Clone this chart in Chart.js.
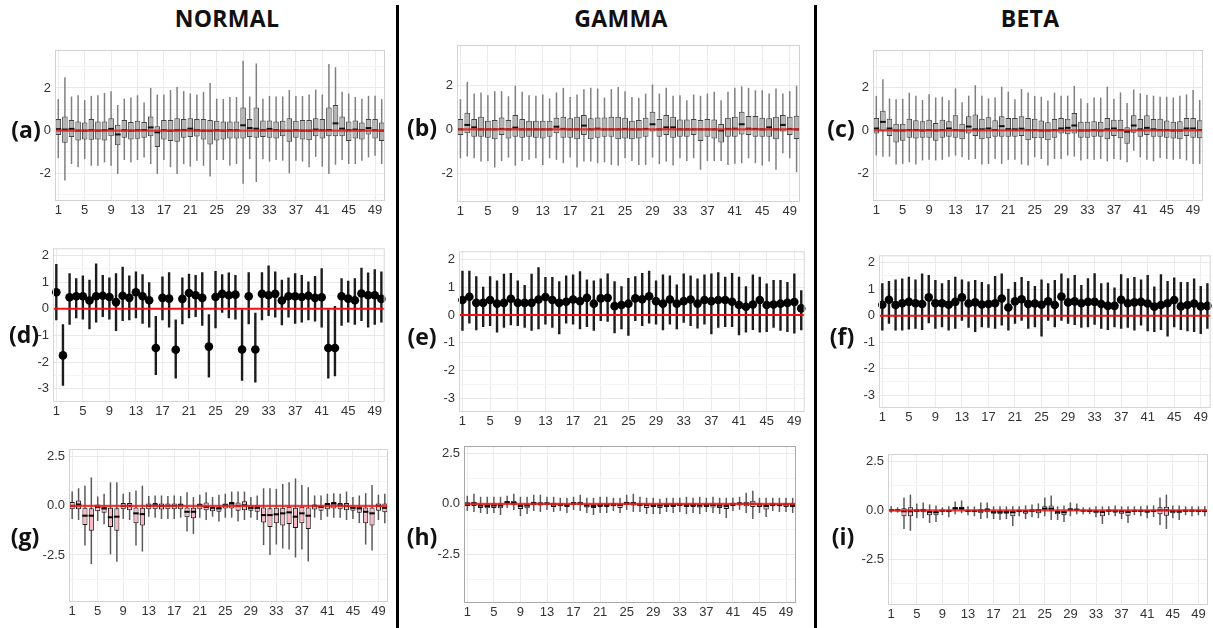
<!DOCTYPE html>
<html><head><meta charset="utf-8">
<script src="https://cdn.jsdelivr.net/npm/chart.js@4"></script>
<style>
html,body{margin:0;padding:0;background:#fff;}
body{width:1213px;height:628px;position:relative;overflow:hidden;}
canvas{position:absolute;}
.t{position:absolute;transform:translate(-50%,-50%);font-family:'Open Sans',sans-serif;font-weight:700;color:#111;line-height:1;white-space:nowrap;z-index:5;}
.hdr{font-size:23px;letter-spacing:0.3px;}
.lab{font-size:23px;}
.sep{position:absolute;top:5px;width:3px;height:623px;background:#000;}
</style></head>
<body>
<div class="sep" style="left:396px"></div>
<div class="sep" style="left:814px"></div>
<div class="t hdr" style="left:227px;top:18px">NORMAL</div>
<div class="t hdr" style="left:621px;top:18px">GAMMA</div>
<div class="t hdr" style="left:1030px;top:18px">BETA</div>
<div class="t lab" style="left:26px;top:129px">(a)</div>
<div class="t lab" style="left:422px;top:127px">(b)</div>
<div class="t lab" style="left:841px;top:128px">(c)</div>
<div class="t lab" style="left:24px;top:334px">(d)</div>
<div class="t lab" style="left:422px;top:336px">(e)</div>
<div class="t lab" style="left:842px;top:336px">(f)</div>
<div class="t lab" style="left:25px;top:536px">(g)</div>
<div class="t lab" style="left:422px;top:536px">(h)</div>
<div class="t lab" style="left:843px;top:536px">(i)</div>
<script>
const CATEGORIES = ['1','2','3','4','5','6','7','8','9','10','11','12','13','14','15','16','17','18','19','20','21','22','23','24','25','26','27','28','29','30','31','32','33','34','35','36','37','38','39','40','41','42','43','44','45','46','47','48','49','50'];
const X_TICK_LABELS = ['1','5','9','13','17','21','25','29','33','37','41','45','49'];

// y tick labels (major) and minor grid positions
const Y_TICKS_TOP = [-2, 0, 2];
const Y_MINOR_TOP = [-3, -1, 1, 3];
const Y_TICKS_MID = [-3, -2, -1, 0, 1, 2];
const Y_MINOR_MID = [-2.5, -1.5, -0.5, 0.5, 1.5];
const Y_TICKS_BOT = [-2.5, 0, 2.5];
const Y_MINOR_BOT = [-3.75, -1.25, 1.25];

// (a) NORMAL boxplots
const aHi = [1.48,2.5,1.6,1.66,1.43,1.63,1.66,1.77,1.85,1.2,1.5,1.55,1.66,1.32,2.0,1.69,1.69,1.9,2.05,1.85,1.74,1.69,1.82,2.23,1.5,1.48,1.58,1.58,3.28,1.6,3.15,1.5,1.62,1.6,1.6,1.9,1.62,1.62,1.69,1.92,1.69,3.12,2.97,1.82,1.74,1.58,1.5,1.63,1.63,1.48];
const aLo = [-1.29,-2.34,-1.57,-1.72,-1.34,-1.65,-1.65,-1.49,-1.65,-2.03,-1.38,-1.49,-1.38,-1.26,-1.57,-2.03,-1.38,-1.72,-2.03,-1.57,-1.69,-1.41,-1.65,-2.15,-1.38,-1.38,-1.65,-1.57,-2.49,-1.34,-2.41,-1.34,-1.45,-1.38,-1.41,-2.0,-1.41,-1.45,-1.72,-1.23,-1.69,-2.03,-1.6,-1.38,-1.57,-1.57,-1.41,-1.26,-1.18,-1.57];
const aQ3 = [0.55,0.66,0.5,0.43,0.38,0.55,0.43,0.43,0.58,0.28,0.5,0.4,0.46,0.4,0.66,0.2,0.5,0.5,0.58,0.55,0.58,0.54,0.54,0.5,0.46,0.43,0.43,0.43,1.08,0.55,1.08,0.48,0.48,0.43,0.46,0.58,0.46,0.5,0.5,0.58,0.55,1.08,1.2,0.66,0.43,0.48,0.38,0.55,0.55,0.38];
const aQ1 = [-0.2,-0.57,-0.3,-0.46,-0.42,-0.43,-0.42,-0.46,-0.26,-0.69,-0.34,-0.42,-0.38,-0.34,-0.26,-0.77,-0.42,-0.49,-0.52,-0.34,-0.3,-0.28,-0.42,-0.65,-0.46,-0.42,-0.37,-0.37,-0.37,-0.3,-0.34,-0.3,-0.34,-0.37,-0.26,-0.52,-0.34,-0.42,-0.45,-0.26,-0.37,-0.26,-0.26,-0.26,-0.49,-0.37,-0.42,-0.18,-0.37,-0.49];
const aMed = [0.07,0.05,0.08,0.0,0.0,0.02,0.0,0.02,0.08,-0.18,0.02,0.0,0.02,0.03,0.15,-0.08,0.02,0.0,0.02,0.03,0.09,0.02,0.0,0.0,0.02,0.0,0.02,0.02,0.25,0.12,0.09,0.02,0.08,0.02,0.0,0.0,0.02,0.0,0.0,0.05,0.02,0.03,0.34,0.09,0.02,0.05,0.02,0.12,0.02,0.0];

// (b) GAMMA boxplots
const bHi = [1.37,2.15,1.62,1.67,1.55,1.73,1.73,1.5,1.97,1.7,1.55,1.52,1.58,1.4,1.67,1.88,1.47,1.58,1.82,1.88,1.85,1.44,1.82,1.92,1.73,1.47,1.43,1.62,2.03,1.62,1.88,1.52,1.55,1.32,1.58,1.52,1.62,1.7,1.32,1.7,1.88,1.95,1.88,1.77,1.77,1.62,1.85,1.62,1.73,1.97];
const bLo = [-1.31,-1.23,-1.31,-1.46,-1.43,-1.73,-1.43,-1.28,-1.64,-1.43,-1.38,-1.31,-1.61,-1.31,-1.38,-1.53,-1.28,-1.73,-1.46,-1.46,-1.53,-1.49,-1.61,-1.65,-1.31,-1.43,-1.61,-1.61,-1.28,-1.58,-1.46,-1.64,-1.31,-1.43,-1.31,-1.83,-1.43,-1.43,-1.43,-1.61,-1.56,-1.53,-1.31,-1.53,-1.64,-1.46,-1.83,-1.08,-1.31,-1.94];
const bQ3 = [0.47,0.75,0.47,0.57,0.39,0.42,0.54,0.42,0.65,0.47,0.39,0.39,0.39,0.39,0.53,0.57,0.5,0.57,0.65,0.5,0.54,0.54,0.57,0.57,0.53,0.39,0.42,0.53,0.8,0.47,0.65,0.57,0.45,0.45,0.47,0.42,0.47,0.45,0.24,0.53,0.57,0.8,0.6,0.6,0.53,0.5,0.57,0.65,0.57,0.62];
const bQ1 = [-0.26,-0.18,-0.33,-0.33,-0.38,-0.45,-0.26,-0.41,-0.33,-0.38,-0.33,-0.38,-0.41,-0.33,-0.18,-0.38,-0.38,-0.45,-0.26,-0.45,-0.38,-0.33,-0.33,-0.45,-0.41,-0.45,-0.41,-0.33,-0.1,-0.33,-0.26,-0.38,-0.33,-0.33,-0.26,-0.53,-0.33,-0.41,-0.59,-0.33,-0.33,-0.23,-0.26,-0.33,-0.33,-0.33,-0.45,-0.1,-0.26,-0.44];
const bMed = [0.0,0.2,0.09,0.0,0.0,0.0,0.02,0.0,0.08,0.0,0.0,0.0,0.0,0.0,0.12,0.02,0.0,0.0,0.17,0.0,0.03,0.0,0.0,0.0,0.02,0.0,0.0,0.02,0.23,0.0,0.09,0.09,0.0,0.0,0.0,0.0,0.0,0.0,-0.05,0.02,0.03,0.23,0.03,0.02,0.0,0.09,0.0,0.2,0.02,0.0];

// (c) BETA boxplots
const cHi = [1.62,2.4,1.5,1.46,1.48,1.77,1.63,1.43,1.69,1.54,1.58,1.41,1.97,1.32,1.63,2.12,1.63,1.5,1.55,2.05,1.82,1.46,1.94,1.78,1.62,1.58,1.4,1.77,1.63,1.63,2.09,1.5,1.28,1.54,1.54,2.05,1.48,1.78,1.28,1.92,1.74,1.66,1.63,1.58,1.58,1.54,1.62,1.69,1.9,1.43];
const cLo = [-1.18,-1.23,-1.23,-1.6,-1.57,-1.49,-1.6,-1.41,-1.38,-1.41,-1.38,-1.23,-1.18,-1.26,-1.38,-1.34,-1.6,-1.57,-1.34,-1.57,-1.38,-1.38,-1.6,-1.65,-1.26,-1.34,-1.65,-1.34,-1.34,-1.18,-1.23,-1.41,-1.34,-1.38,-1.34,-1.45,-1.34,-1.38,-1.49,-0.95,-1.26,-1.38,-1.45,-1.29,-1.34,-1.38,-1.34,-1.41,-1.57,-1.57];
const cQ3 = [0.58,0.92,0.55,0.31,0.31,0.55,0.48,0.43,0.5,0.35,0.5,0.43,0.71,0.31,0.66,0.74,0.55,0.62,0.48,0.66,0.58,0.58,0.66,0.58,0.55,0.46,0.38,0.54,0.58,0.55,0.82,0.4,0.4,0.43,0.4,0.58,0.5,0.5,0.15,0.71,0.54,0.71,0.54,0.55,0.46,0.4,0.43,0.58,0.58,0.48];
const cQ1 = [-0.15,-0.03,-0.26,-0.57,-0.49,-0.34,-0.38,-0.34,-0.34,-0.49,-0.34,-0.3,-0.34,-0.42,-0.15,-0.26,-0.42,-0.37,-0.3,-0.3,-0.3,-0.3,-0.26,-0.46,-0.37,-0.37,-0.46,-0.34,-0.15,-0.18,-0.15,-0.34,-0.34,-0.3,-0.3,-0.42,-0.26,-0.37,-0.62,-0.11,-0.3,-0.22,-0.3,-0.3,-0.34,-0.38,-0.42,-0.26,-0.34,-0.37];
const cMed = [0.09,0.4,0.09,0.0,0.0,0.02,0.02,0.0,0.02,0.0,0.02,0.09,0.02,0.0,0.18,0.05,0.05,0.09,0.02,0.2,0.06,0.05,0.08,0.02,0.02,0.0,0.0,0.02,0.09,0.12,0.23,0.0,0.0,0.02,0.0,0.05,0.09,0.02,-0.06,0.23,0.05,0.12,0.05,0.02,0.02,0.0,0.0,0.09,0.09,0.02];

// (d) NORMAL point + interval
const dPt = [0.62,-1.75,0.43,0.47,0.47,0.31,0.47,0.49,0.44,0.25,0.49,0.41,0.62,0.47,0.32,-1.47,0.41,0.38,-1.54,0.37,0.59,0.51,0.41,-1.42,0.44,0.56,0.51,0.53,-1.53,0.47,-1.53,0.56,0.51,0.56,0.31,0.47,0.47,0.44,0.49,0.41,0.43,-1.47,-1.47,0.47,0.38,0.32,0.57,0.51,0.51,0.37];
const dHi = [1.68,-0.58,1.33,1.15,1.25,1.09,1.7,1.27,1.17,1.33,1.58,1.25,1.4,1.3,1.0,-0.27,1.21,1.37,-0.4,1.17,1.31,1.27,1.37,-0.21,1.42,1.3,1.36,1.27,-0.02,1.37,-0.15,1.37,1.62,1.4,1.09,1.17,1.33,1.27,1.02,1.23,1.52,0.0,0.1,1.15,1.05,1.15,1.54,1.36,1.48,1.4];
const dLo = [-0.43,-2.89,-0.6,-0.36,-0.4,-0.77,-0.52,-0.31,-0.4,-0.83,-0.46,-0.43,-0.36,-0.56,-0.7,-2.49,-0.43,-0.7,-2.62,-0.58,-0.36,-0.31,-0.64,-2.58,-0.73,-0.15,-0.36,-0.4,-2.7,-0.58,-2.77,-0.43,-0.27,-0.33,-0.62,-0.33,-0.56,-0.52,-0.43,-0.48,-0.7,-2.62,-2.53,-0.64,-0.52,-0.6,-0.46,-0.7,-0.6,-0.52];

// (e) GAMMA point + interval
const ePt = [0.54,0.66,0.44,0.44,0.54,0.41,0.44,0.59,0.44,0.44,0.44,0.56,0.65,0.54,0.44,0.48,0.56,0.5,0.62,0.41,0.6,0.62,0.32,0.36,0.41,0.6,0.57,0.68,0.5,0.41,0.56,0.41,0.5,0.56,0.41,0.54,0.5,0.54,0.54,0.48,0.36,0.3,0.38,0.54,0.36,0.38,0.41,0.44,0.47,0.24];
const eHi = [1.6,1.6,1.4,1.02,1.4,1.25,1.49,1.52,1.25,1.08,1.49,1.72,1.37,1.37,1.22,1.43,1.46,1.58,1.28,1.25,1.32,1.5,1.22,1.04,1.34,1.4,1.52,1.6,1.25,1.46,1.43,1.1,1.5,1.43,1.32,1.46,1.5,1.54,1.38,1.52,1.38,1.04,1.46,1.38,1.14,1.26,1.26,1.19,1.5,0.89];
const eLo = [-0.57,-0.31,-0.55,-0.43,-0.4,-0.63,-0.46,-0.37,-0.4,-0.46,-0.57,-0.51,-0.34,-0.46,-0.69,-0.31,-0.34,-0.51,-0.43,-0.57,-0.22,-0.24,-0.66,-0.51,-0.75,-0.22,-0.4,-0.31,-0.34,-0.55,-0.34,-0.51,-0.28,-0.4,-0.49,-0.34,-0.69,-0.46,-0.43,-0.43,-0.73,-0.63,-0.54,-0.63,-0.61,-0.46,-0.57,-0.61,-0.67,-0.55];

// (f) BETA point + interval
const fPt = [0.41,0.6,0.4,0.47,0.52,0.47,0.44,0.69,0.47,0.47,0.41,0.52,0.69,0.46,0.5,0.42,0.44,0.47,0.65,0.31,0.54,0.62,0.44,0.46,0.41,0.54,0.4,0.72,0.5,0.54,0.47,0.52,0.52,0.44,0.37,0.37,0.6,0.47,0.5,0.52,0.46,0.34,0.4,0.47,0.59,0.35,0.4,0.46,0.35,0.37];
const fHi = [1.22,1.31,1.37,1.4,1.47,1.37,1.59,1.54,1.35,1.22,1.35,1.47,1.37,1.29,1.35,1.27,1.19,1.5,1.59,1.02,1.27,1.46,1.31,1.12,1.37,1.22,1.35,1.59,1.41,1.54,1.16,1.41,1.6,1.22,1.25,1.06,1.56,1.41,1.46,1.37,1.54,1.1,1.56,1.31,1.44,1.27,1.27,1.4,1.12,1.22];
const fLo = [-0.56,-0.31,-0.56,-0.56,-0.52,-0.5,-0.54,-0.29,-0.5,-0.44,-0.56,-0.5,-0.19,-0.46,-0.62,-0.44,-0.46,-0.5,-0.37,-0.56,-0.31,-0.19,-0.5,-0.44,-0.79,-0.19,-0.44,-0.19,-0.31,-0.35,-0.46,-0.44,-0.34,-0.5,-0.54,-0.44,-0.5,-0.46,-0.56,-0.37,-0.59,-0.62,-0.54,-0.79,-0.44,-0.54,-0.59,-0.62,-0.69,-0.5];

// (g) NORMAL pink boxplots
const gHi = [0.73,0.9,1.03,1.45,0.48,0.62,1.2,1.2,0.62,0.7,0.78,1.03,0.5,0.53,0.53,0.5,0.53,0.5,0.7,0.45,0.57,0.7,0.45,0.57,0.62,0.73,0.73,0.73,0.45,0.53,0.9,0.9,0.87,1.12,1.2,1.4,1.07,0.95,0.53,0.53,0.62,0.65,0.62,0.73,0.45,0.53,0.65,1.07,0.57,0.62];
const gLo = [-0.67,-0.72,-2.02,-2.97,-0.77,-0.93,-2.47,-2.85,-0.67,-0.72,-2.02,-2.33,-0.55,-0.6,-0.67,-0.67,-0.67,-0.6,-1.3,-1.43,-0.6,-0.72,-0.55,-0.8,-0.6,-0.6,-0.8,-0.72,-0.6,-0.72,-2.0,-2.5,-1.97,-2.17,-2.22,-2.63,-2.22,-2.83,-0.6,-0.72,-0.55,-0.6,-0.6,-0.72,-0.67,-0.88,-1.97,-2.27,-0.72,-0.88];
const gQ3 = [0.2,0.28,-0.1,-0.12,0.07,0.0,-0.1,-0.12,0.15,0.15,-0.08,-0.1,0.12,0.15,0.12,0.12,0.12,0.12,-0.08,-0.1,0.12,0.17,0.0,-0.05,0.12,0.2,0.17,0.23,0.03,0.03,-0.08,-0.12,-0.1,-0.1,-0.05,-0.1,-0.05,-0.08,0.07,0.03,0.15,0.2,0.15,0.15,0.0,0.0,-0.08,-0.08,0.12,0.12];
const gQ1 = [-0.17,-0.17,-0.97,-1.27,-0.27,-0.35,-1.08,-1.27,-0.17,-0.22,-0.88,-1.0,-0.17,-0.17,-0.18,-0.17,-0.17,-0.17,-0.58,-0.63,-0.17,-0.22,-0.27,-0.3,-0.13,-0.13,-0.25,-0.22,-0.25,-0.3,-0.85,-1.08,-0.88,-1.0,-0.92,-1.13,-0.88,-1.18,-0.18,-0.25,-0.17,-0.13,-0.17,-0.22,-0.25,-0.35,-0.88,-1.0,-0.25,-0.33];
const gMed = [0.0,0.07,-0.5,-0.5,-0.05,-0.13,-0.58,-0.55,0.0,0.0,-0.38,-0.42,0.0,0.03,0.0,0.0,0.0,0.03,-0.3,-0.3,0.03,-0.05,-0.1,-0.13,0.03,0.12,0.0,0.03,-0.1,-0.1,-0.47,-0.47,-0.43,-0.38,-0.33,-0.55,-0.38,-0.5,0.0,-0.05,0.07,0.12,0.03,0.0,-0.1,-0.13,-0.3,-0.38,0.0,-0.1];

// (h) GAMMA pink boxplots
const hHi = [0.4,0.5,0.35,0.35,0.35,0.35,0.4,0.5,0.35,0.35,0.45,0.45,0.35,0.35,0.3,0.3,0.35,0.45,0.3,0.3,0.35,0.35,0.3,0.3,0.45,0.5,0.35,0.3,0.3,0.25,0.3,0.3,0.3,0.35,0.3,0.35,0.3,0.35,0.3,0.3,0.3,0.35,0.55,0.65,0.3,0.3,0.3,0.3,0.3,0.3];
const hLo = [-0.35,-0.4,-0.45,-0.5,-0.45,-0.55,-0.2,-0.3,-0.6,-0.5,-0.35,-0.4,-0.3,-0.4,-0.35,-0.45,-0.3,-0.35,-0.45,-0.55,-0.45,-0.45,-0.35,-0.45,-0.3,-0.4,-0.4,-0.5,-0.5,-0.5,-0.4,-0.45,-0.4,-0.5,-0.45,-0.5,-0.4,-0.45,-0.5,-0.7,-0.35,-0.3,-0.45,-0.75,-0.45,-0.65,-0.35,-0.4,-0.4,-0.45];
const hQ3 = [0.08,0.1,0.02,0.02,0.03,0.03,0.12,0.15,0.0,0.02,0.1,0.08,0.07,0.05,0.02,0.0,0.08,0.1,0.0,0.0,0.02,0.02,0.03,0.02,0.1,0.1,0.03,0.02,0.0,0.0,0.02,0.02,0.03,0.02,0.02,0.02,0.02,0.02,0.02,0.0,0.05,0.07,0.1,0.15,0.03,0.0,0.03,0.02,0.03,0.03];
const hQ1 = [-0.1,-0.1,-0.2,-0.22,-0.2,-0.22,-0.02,-0.05,-0.25,-0.22,-0.05,-0.08,-0.05,-0.15,-0.12,-0.15,-0.05,-0.05,-0.18,-0.2,-0.15,-0.15,-0.12,-0.2,-0.05,-0.08,-0.12,-0.2,-0.15,-0.2,-0.15,-0.15,-0.12,-0.15,-0.15,-0.18,-0.15,-0.18,-0.2,-0.25,-0.1,-0.08,-0.12,-0.15,-0.15,-0.28,-0.12,-0.12,-0.15,-0.15];
const hMed = [0.0,0.02,-0.08,-0.1,-0.08,-0.08,0.08,0.05,-0.1,-0.08,0.03,0.0,0.02,-0.03,-0.03,-0.05,0.03,0.02,-0.08,-0.1,-0.05,-0.05,-0.03,-0.05,0.03,0.02,-0.03,-0.05,-0.08,-0.08,-0.05,-0.05,-0.03,-0.05,-0.05,-0.08,-0.05,-0.05,-0.08,-0.1,-0.02,0.02,0.0,0.0,-0.03,-0.1,-0.03,-0.05,-0.03,-0.05];

// (i) BETA pink boxplots
const iHi = [0.2,0.15,0.65,0.8,0.35,0.4,0.3,0.25,0.15,0.2,0.45,0.5,0.2,0.2,0.4,0.4,0.2,0.2,0.2,0.2,0.2,0.25,0.3,0.35,0.65,0.75,0.2,0.25,0.4,0.35,0.15,0.15,0.2,0.2,0.2,0.25,0.2,0.2,0.2,0.2,0.25,0.25,0.65,0.8,0.25,0.25,0.2,0.2,0.2,0.2];
const iLo = [-0.12,-0.12,-0.95,-1.05,-0.4,-0.4,-0.65,-0.6,-0.25,-0.35,-0.2,-0.15,-0.25,-0.3,-0.45,-0.4,-0.45,-0.5,-0.45,-0.8,-0.3,-0.45,-0.35,-0.4,-0.3,-0.5,-0.5,-0.6,-0.3,-0.2,-0.2,-0.2,-0.35,-0.7,-0.25,-0.3,-0.45,-0.65,-0.25,-0.3,-0.4,-0.35,-0.75,-0.95,-0.4,-0.5,-0.25,-0.3,-0.25,-0.3];
const iQ3 = [0.05,0.05,0.1,0.15,0.05,0.08,0.0,0.0,0.02,0.02,0.15,0.18,0.02,0.02,0.05,0.1,0.0,0.0,0.0,0.0,0.02,0.02,0.05,0.05,0.2,0.25,0.0,0.0,0.1,0.08,0.02,0.02,0.0,0.0,0.02,0.02,0.0,0.0,0.02,0.02,0.02,0.02,0.15,0.18,0.02,0.02,0.02,0.02,0.02,0.02];
const iQ1 = [-0.05,-0.05,-0.3,-0.3,-0.1,-0.1,-0.25,-0.25,-0.08,-0.1,0.0,0.02,-0.08,-0.1,-0.15,-0.1,-0.18,-0.2,-0.18,-0.3,-0.1,-0.18,-0.1,-0.15,0.0,-0.05,-0.2,-0.25,-0.02,-0.02,-0.05,-0.08,-0.15,-0.3,-0.08,-0.12,-0.18,-0.28,-0.08,-0.08,-0.12,-0.1,-0.2,-0.28,-0.15,-0.15,-0.08,-0.08,-0.08,-0.1];
const iMed = [0.0,0.0,-0.05,-0.05,-0.02,0.0,-0.08,-0.1,-0.02,-0.03,0.1,0.1,-0.03,-0.03,-0.02,0.02,-0.08,-0.08,-0.08,-0.1,-0.03,-0.05,-0.02,0.0,0.08,0.08,-0.08,-0.1,0.03,0.03,-0.02,-0.03,-0.05,-0.08,-0.02,-0.03,-0.05,-0.08,-0.03,-0.03,-0.05,-0.03,0.0,0.0,-0.05,-0.05,-0.02,-0.02,-0.03,-0.03];

// ---------- rendering ----------
const Y_W = 45, X_H = 24, PAD = 3;
const TICK_FONT = {family: "'Liberation Sans', Arial, sans-serif", size: 13};

function pair(lo, hi) { return lo.map((v, k) => [v, hi[k]]); }

function makeChart(cfg) {
  const [l, t, r, b] = cfg.rect;
  const cv = document.createElement('canvas');
  const W = (r - l) + Y_W + PAD, H = (b - t) + X_H + PAD;
  cv.width = W; cv.height = H;
  cv.style.left = (l - Y_W) + 'px';
  cv.style.top = (t - PAD) + 'px';
  cv.style.width = W + 'px'; cv.style.height = H + 'px';
  document.body.appendChild(cv);

  const allY = cfg.major.concat(cfg.minor).sort((p, q) => p - q);
  const fmt = v => cfg.dec ? v.toFixed(cfg.dec) : String(v);

  const decor = {
    id: 'decor',
    afterDatasetsDraw(chart) {
      const {ctx, chartArea: ca, scales} = chart;
      const y0 = scales.y.getPixelForValue(0);
      ctx.save();
      ctx.beginPath();
      ctx.rect(ca.left, ca.top, ca.right - ca.left, ca.bottom - ca.top);
      ctx.clip();
      ctx.strokeStyle = cfg.zeroColor;
      ctx.lineWidth = cfg.zeroWidth;
      ctx.beginPath();
      ctx.moveTo(ca.left, y0); ctx.lineTo(ca.right, y0);
      ctx.stroke();
      ctx.restore();
    },
    afterDraw(chart) {
      const {ctx, chartArea: ca} = chart;
      ctx.save();
      ctx.strokeStyle = cfg.frame;
      ctx.lineWidth = 1;
      ctx.strokeRect(ca.left + 0.5, ca.top + 0.5, ca.right - ca.left - 1, ca.bottom - ca.top - 1);
      ctx.restore();
    }
  };

  let datasets;
  if (cfg.kind === 'box') {
    datasets = [
      {type: 'line', data: cfg.med, showLine: false, pointStyle: 'line', pointRadius: cfg.medR,
       pointBorderWidth: 2, pointBorderColor: cfg.medColor, borderColor: cfg.medColor, order: 1},
      {type: 'bar', data: pair(cfg.q1, cfg.q3), backgroundColor: cfg.fill, borderColor: cfg.edge,
       borderWidth: 1, borderSkipped: false, barPercentage: cfg.boxPct, categoryPercentage: 1, grouped: false, order: 2},
      {type: 'bar', data: pair(cfg.lo, cfg.hi), backgroundColor: cfg.whisker, borderWidth: 0,
       maxBarThickness: 1.5, grouped: false, order: 3}
    ];
  } else {
    datasets = [
      {type: 'line', data: cfg.pt, showLine: false, pointStyle: 'circle', pointRadius: 4.3,
       pointBackgroundColor: '#000', pointBorderWidth: 0, order: 1},
      {type: 'bar', data: pair(cfg.lo, cfg.hi), backgroundColor: '#1c1c1c', borderWidth: 0,
       maxBarThickness: 2.4, grouped: false, order: 2}
    ];
  }

  new Chart(cv, {
    type: 'bar',
    data: {labels: CATEGORIES, datasets},
    options: {
      responsive: false, animation: false, devicePixelRatio: 1, events: [],
      layout: {padding: {top: PAD, right: PAD, left: 0, bottom: 0}},
      plugins: {legend: {display: false}, tooltip: {enabled: false}},
      scales: {
        x: {
          type: 'category', offset: true,
          border: {display: false},
          grid: {offset: false, drawTicks: false, lineWidth: 1,
                 color: ctx => (ctx.tick && X_TICK_LABELS.includes(CATEGORIES[ctx.index])) ? '#ebebeb' : 'rgba(0,0,0,0)'},
          ticks: {autoSkip: false, maxRotation: 0, minRotation: 0, padding: 2, color: '#333', font: TICK_FONT,
                  callback: (v, k) => X_TICK_LABELS.includes(CATEGORIES[k]) ? CATEGORIES[k] : ''},
          afterFit: s => { s.height = X_H; s.paddingLeft = 0; s.paddingRight = 0; }
        },
        y: {
          type: 'linear', min: cfg.yr[0], max: cfg.yr[1],
          border: {display: false},
          afterBuildTicks: s => { s.ticks = allY.map(v => ({value: v})); },
          grid: {drawTicks: false, lineWidth: 1,
                 color: ctx => (ctx.tick && cfg.major.includes(ctx.tick.value)) ? '#e8e8e8' : '#f4f4f4'},
          ticks: {autoSkip: false, padding: 4, color: '#333', font: TICK_FONT,
                  callback: v => cfg.major.includes(v) ? fmt(v) : ''},
          afterFit: s => { s.width = Y_W; s.paddingTop = 0; s.paddingBottom = 0; }
        }
      }
    },
    plugins: [decor]
  });
}

const GRAY = {fill: '#b4b4b4', edge: '#424242', whisker: '#808080', medColor: '#111', medR: 2.9, boxPct: 0.84,
              zeroColor: 'rgba(232,30,30,0.85)', zeroWidth: 2.2, frame: '#d2d2d2'};
const PINK = {fill: '#f7b9c4', edge: '#1a1a1a', whisker: '#5a5a5a', medColor: '#000', medR: 2.7, boxPct: 0.8,
              zeroColor: 'rgba(240,30,30,0.85)', zeroWidth: 2.2, frame: '#d2d2d2'};
const DOT = {zeroColor: '#f01010', zeroWidth: 2, frame: '#d6d6d6'};

const TOP = {major: Y_TICKS_TOP, minor: Y_MINOR_TOP, dec: 0};
const MID = {major: Y_TICKS_MID, minor: Y_MINOR_MID, dec: 0};
const BOT = {major: Y_TICKS_BOT, minor: Y_MINOR_BOT, dec: 1};

makeChart(Object.assign({kind: 'box', rect: [55, 47, 388, 201], yr: [-3.3, 3.78], lo: aLo, q1: aQ1, med: aMed, q3: aQ3, hi: aHi}, GRAY, TOP));
makeChart(Object.assign({kind: 'box', rect: [457, 42, 803, 202], yr: [-3.29, 3.82], lo: bLo, q1: bQ1, med: bMed, q3: bQ3, hi: bHi}, GRAY, TOP));
makeChart(Object.assign({kind: 'box', rect: [873, 47, 1206, 201], yr: [-3.31, 3.77], lo: cLo, q1: cQ1, med: cMed, q3: cQ3, hi: cHi}, GRAY, TOP));
makeChart(Object.assign({kind: 'dot', rect: [53, 247, 386, 402], yr: [-3.5, 2.27], lo: dLo, pt: dPt, hi: dHi}, DOT, MID));
makeChart(Object.assign({kind: 'dot', rect: [459, 250, 806, 412], yr: [-3.5, 2.3], lo: eLo, pt: ePt, hi: eHi}, DOT, MID));
makeChart(Object.assign({kind: 'dot', rect: [879, 254, 1212, 408], yr: [-3.49, 2.28], lo: fLo, pt: fPt, hi: fHi}, DOT, MID));
makeChart(Object.assign({kind: 'box', rect: [69, 446, 391, 602], yr: [-4.9, 2.9], lo: gLo, q1: gQ1, med: gMed, q3: gQ3, hi: gHi}, PINK, BOT));
makeChart(Object.assign({kind: 'box', rect: [464, 443, 799, 603], yr: [-4.9, 2.86], lo: hLo, q1: hQ1, med: hMed, q3: hQ3, hi: hHi}, PINK, BOT, {frame: '#a8a8a8'}));
makeChart(Object.assign({kind: 'box', rect: [888, 451, 1211, 605], yr: [-4.83, 2.87], lo: iLo, q1: iQ1, med: iMed, q3: iQ3, hi: iHi}, PINK, BOT));
</script>
</body></html>
